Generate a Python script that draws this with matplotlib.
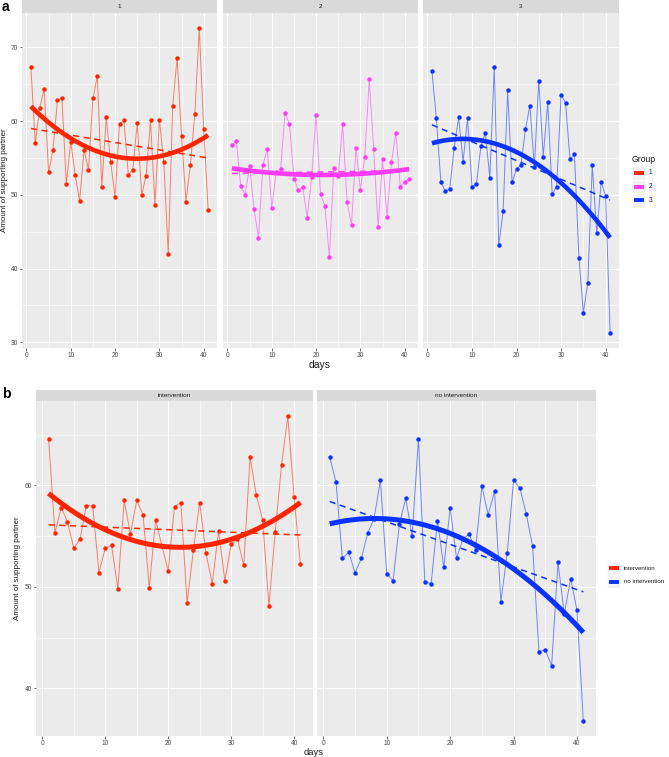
import numpy as np
import matplotlib
matplotlib.use('Agg')
import matplotlib.pyplot as plt
from matplotlib.lines import Line2D
from matplotlib.patches import Rectangle
from matplotlib.ticker import MultipleLocator

plt.rcParams['font.family'] = ['Liberation Sans', 'DejaVu Sans']

days = np.arange(1, 42)

group1 = [67.4, 57.0, 61.8, 64.4, 53.1, 56.1, 62.8, 63.2, 51.5, 57.2,
          52.7, 49.2, 56.1, 53.4, 63.1, 66.1, 51.1, 60.5, 54.5, 49.7,
          59.6, 60.1, 52.7, 53.4, 59.8, 50.0, 52.6, 60.1, 48.6, 60.2,
          54.4, 42.0, 62.0, 68.6, 58.0, 49.1, 54.1, 61.0, 72.6, 59.0, 48.0]
group2 = [56.7, 57.3, 51.2, 50.0, 53.9, 48.1, 44.2, 54.0, 56.2, 48.2,
          53.1, 53.5, 61.1, 59.6, 52.2, 50.6, 51.1, 46.9, 52.4, 60.8,
          50.1, 48.5, 41.6, 53.7, 52.6, 59.6, 49.0, 45.9, 56.4, 50.7,
          55.2, 65.7, 56.2, 45.6, 54.9, 47.0, 54.4, 58.4, 51.1, 51.8, 52.1]
group3 = [66.8, 60.4, 51.8, 50.5, 50.8, 56.4, 60.5, 54.5, 60.4, 51.1,
          51.5, 56.6, 58.4, 52.3, 67.4, 43.2, 47.8, 64.2, 51.7, 53.5,
          54.1, 58.9, 62.1, 53.8, 65.5, 55.2, 62.6, 50.1, 51.1, 63.6,
          62.5, 54.8, 55.5, 41.5, 34.0, 38.1, 54.0, 44.8, 51.7, 49.9, 31.3]
intervention = [64.6, 55.3, 57.8, 56.4, 53.8, 54.7, 58.0, 58.0, 51.4, 53.8,
                54.1, 49.8, 58.5, 55.2, 58.5, 57.1, 49.9, 56.6, 54.0, 51.6,
                57.9, 58.3, 48.4, 53.6, 58.3, 53.3, 50.3, 55.5, 50.6, 54.2,
                54.7, 52.1, 62.8, 59.0, 56.6, 48.1, 55.4, 62.0, 66.8, 58.8, 52.2]
no_intervention = [62.8, 60.3, 52.8, 53.4, 51.4, 52.8, 55.3, 56.7, 60.5, 51.3,
                   50.6, 56.2, 58.7, 55.0, 64.6, 50.5, 50.3, 56.5, 51.9, 57.8,
                   52.8, 54.7, 55.2, 53.6, 59.9, 57.1, 59.4, 48.5, 53.3, 60.5,
                   59.7, 57.2, 54.0, 43.6, 43.8, 42.2, 52.4, 47.3, 50.8, 47.7, 36.8]

# fitted smooth curves
quad_days = [1, 21, 41]          # quadratic fit values at these days
lin_days = [1, 41]               # linear fit values at these days
group1_quad = [62.0, 55.1, 58.1]
group2_quad = [53.6, 52.7, 53.5]
group3_quad = [57.0, 55.5, 44.2]
intervention_quad = [59.2, 53.9, 58.3]
no_intervention_quad = [56.2, 55.0, 45.5]
group1_lin = [59.0, 55.0]
group2_lin = [52.9, 53.3]
group3_lin = [59.5, 49.3]
intervention_lin = [56.1, 55.1]
no_intervention_lin = [58.4, 49.5]

top_labels = ['1', '2', '3']
bottom_labels = ['intervention', 'no intervention']
top_series = [group1, group2, group3]
bottom_series = [intervention, no_intervention]
top_quads = [group1_quad, group2_quad, group3_quad]
top_lins = [group1_lin, group2_lin, group3_lin]
bottom_quads = [intervention_quad, no_intervention_quad]
bottom_lins = [intervention_lin, no_intervention_lin]

RED = '#FF2400'
MAG = '#FF3CF5'
BLUE = '#0A32FF'
top_colors = [RED, MAG, BLUE]
bottom_colors = [RED, BLUE]

W, H = 669, 757
fig = plt.figure(figsize=(W / 100, H / 100), dpi=100)
fig.patch.set_facecolor('white')


def rect(x0, x1, y0, y1):
    return [x0 / W, 1 - y1 / H, (x1 - x0) / W, (y1 - y0) / H]


def style_axis(ax, ylim, ymaj, show_y):
    ax.set_facecolor('#EBEBEB')
    ax.set_xlim(-1, 43)
    ax.set_ylim(*ylim)
    ax.xaxis.set_major_locator(MultipleLocator(10))
    ax.xaxis.set_minor_locator(MultipleLocator(5))
    ax.yaxis.set_major_locator(MultipleLocator(ymaj))
    ax.yaxis.set_minor_locator(MultipleLocator(ymaj / 2))
    ax.grid(which='major', color='white', lw=0.8)
    ax.grid(which='minor', color='white', lw=0.4)
    ax.set_axisbelow(True)
    for s in ax.spines.values():
        s.set_visible(False)
    ax.tick_params(which='major', length=1.8, width=0.5, color='#333333',
                   labelsize=4.8, labelcolor='#4D4D4D', pad=1.0)
    ax.tick_params(which='minor', length=0)
    if not show_y:
        ax.tick_params(axis='y', which='major', length=0, labelleft=False)


def draw_series(ax, y, quad, lin, color, thick_lw):
    y = np.asarray(y)
    ax.plot(days, y, color=color, lw=0.7, alpha=0.55, zorder=2)
    ax.plot(days, y, 'o', color=color, ms=3.2, mec='none', zorder=3)
    xs = np.linspace(days.min(), days.max(), 80)
    p2 = np.polyfit(quad_days, quad, 2)
    ax.plot(xs, np.polyval(p2, xs), color=color, lw=thick_lw,
            solid_capstyle='butt', zorder=4)
    p1 = np.polyfit(lin_days, lin, 1)
    ax.plot(xs, np.polyval(p1, xs), color=color, lw=1.1, dashes=(4, 3),
            zorder=4)


def ylim_from(series_list):
    allv = np.concatenate([np.asarray(s) for s in series_list])
    lo, hi = allv.min(), allv.max()
    r = hi - lo
    return (lo - 0.05 * r, hi + 0.05 * r)


def strip(x0, x1, y0, y1, label):
    sax = fig.add_axes(rect(x0, x1, y0, y1))
    sax.set_facecolor('#D9D9D9')
    sax.set_xticks([])
    sax.set_yticks([])
    for s in sax.spines.values():
        s.set_visible(False)
    sax.text(0.5, 0.5, label, ha='center', va='center', fontsize=4.6,
             color='#1A1A1A', transform=sax.transAxes)


# ---- panel a ----
top_x = [(22, 217), (223, 418), (423, 619)]
top_ylim = ylim_from(top_series)
for i, (x0, x1) in enumerate(top_x):
    ax = fig.add_axes(rect(x0, x1, 13, 348))
    style_axis(ax, top_ylim, 10, i == 0)
    draw_series(ax, top_series[i], top_quads[i], top_lins[i], top_colors[i], 3.3)
    strip(x0, x1, 0, 13, top_labels[i])

fig.text(320 / W, 1 - 365 / H, 'days', ha='center', va='center',
         fontsize=7.5, color='#1A1A1A')
fig.text(5 / W, 1 - 180 / H, 'Amount of supporting partner', rotation=90,
         ha='center', va='center', fontsize=5.8, color='#1A1A1A')
fig.text(2 / W, 1 - 7 / H, 'a', ha='left', va='center', fontsize=10,
         fontweight='bold')

# legend a
fig.text(632 / W, 1 - 159 / H, 'Group', ha='left', va='center', fontsize=6.2,
         color='#1A1A1A')
for j, (lab, col) in enumerate(zip(top_labels, top_colors)):
    yc = 173 + j * 13.5
    fig.add_artist(Rectangle((632 / W, 1 - (yc + 6.5) / H), 13 / W, 13 / H,
                             transform=fig.transFigure, facecolor='#F2F2F2',
                             edgecolor='white', lw=0.5))
    fig.add_artist(Line2D([633.5 / W, 643.5 / W], [1 - yc / H, 1 - yc / H],
                          transform=fig.transFigure, color=col, lw=2.8,
                          solid_capstyle='butt'))
    fig.text(649 / W, 1 - yc / H, lab, ha='left', va='center', fontsize=4.8,
             color='#1A1A1A')

# ---- panel b ----
bot_x = [(36, 313), (317, 596)]
bot_ylim = ylim_from(bottom_series)
for i, (x0, x1) in enumerate(bot_x):
    ax = fig.add_axes(rect(x0, x1, 401, 736))
    style_axis(ax, bot_ylim, 10, i == 0)
    draw_series(ax, bottom_series[i], bottom_quads[i], bottom_lins[i],
                bottom_colors[i], 3.6)
    strip(x0, x1, 390, 401, bottom_labels[i])

fig.text(314 / W, 1 - 757 / H, 'days', ha='center', va='bottom',
         fontsize=6.8, color='#1A1A1A')
fig.text(18 / W, 1 - 568 / H, 'Amount of supporting partner', rotation=90,
         ha='center', va='center', fontsize=5.8, color='#1A1A1A')
fig.text(2 / W, 1 - 394 / H, 'b', ha='left', va='center', fontsize=10,
         fontweight='bold')

for j, (lab, col) in enumerate(zip(bottom_labels, bottom_colors)):
    yc = 568 + j * 13.5
    fig.add_artist(Rectangle((607 / W, 1 - (yc + 6.5) / H), 13 / W, 13 / H,
                             transform=fig.transFigure, facecolor='#F2F2F2',
                             edgecolor='white', lw=0.5))
    fig.add_artist(Line2D([608.5 / W, 618.5 / W], [1 - yc / H, 1 - yc / H],
                          transform=fig.transFigure, color=col, lw=2.8,
                          solid_capstyle='butt'))
    fig.text(624 / W, 1 - yc / H, lab, ha='left', va='center', fontsize=4.4,
             color='#1A1A1A')

fig.savefig('out.png', dpi=100, facecolor='white')
